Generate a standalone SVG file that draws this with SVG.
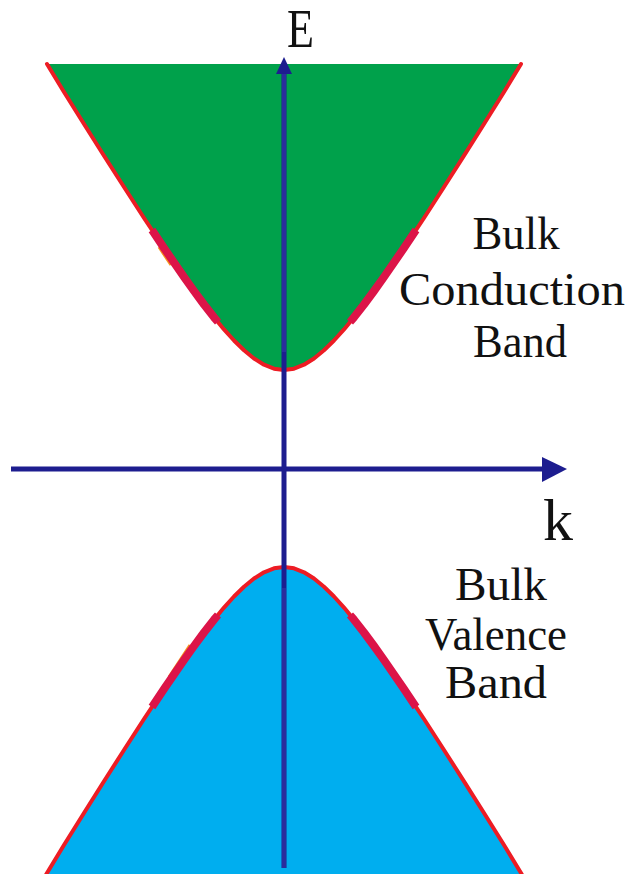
<svg xmlns="http://www.w3.org/2000/svg" width="634" height="874" viewBox="0 0 634 874">
<style>
.edge{fill:none;stroke:#ED1C24;stroke-width:4;stroke-linejoin:round;stroke-linecap:round}
.thick{fill:none;stroke:#DC1448;stroke-width:8;stroke-linejoin:round}
.orange{stroke:#F7941D;stroke-width:3}
.axis{stroke:#1D1D8F;stroke-width:5}
.axisin{stroke:#2B2D9C;stroke-width:4}
.head{fill:#1D1D8F}
.lbl{font-family:"Liberation Serif","Times New Roman",serif;font-size:46px;fill:#111;text-anchor:middle}
.sym{font-family:"Liberation Serif","Times New Roman",serif;fill:#111}
</style>
<rect width="634" height="874" fill="#ffffff"/>
<g id="conduction-band">
<path fill="#00A14B" d="M47,64 L64,92 L84,124 L104,155.7 L124,187 L144,218 L164,248 L184,277 L194,291 L204,304.5 L214,317.3 L224,329.4 L234,340.5 L244,350.3 L254,358.5 L264,364.7 L274,368.7 L284,370 L294,368.7 L304,364.7 L314,358.5 L324,350.3 L334,340.5 L344,329.4 L354,317.3 L364,304.5 L374,291 L384,277 L404,248 L424,218 L444,187 L464,155.7 L484,124 L504,92 L521,64 Z"/>
<path class="edge" d="M47,64 L64,92 L84,124 L104,155.7 L124,187 L144,218 L164,248 L184,277 L194,291 L204,304.5 L214,317.3 L224,329.4 L234,340.5 L244,350.3 L254,358.5 L264,364.7 L274,368.7 L284,370 L294,368.7 L304,364.7 L314,358.5 L324,350.3 L334,340.5 L344,329.4 L354,317.3 L364,304.5 L374,291 L384,277 L404,248 L424,218 L444,187 L464,155.7 L484,124 L504,92 L521,64"/>
<line class="orange" x1="159" y1="247" x2="171" y2="265"/>
<path class="thick" d="M152,230 L164,248 L184,277 L194,291 L204,304.5 L214,317.3 L218,322"/>
<path class="thick" d="M350,322 L354,317.3 L364,304.5 L374,291 L384,277 L404,248 L416,230"/>
</g>
<g id="valence-band">
<path fill="#00AEEF" d="M43,880 L47,873 L64,845 L84,813 L104,781.3 L124,750 L144,719 L164,689 L184,660 L194,646 L204,632.5 L214,619.7 L224,607.6 L234,596.5 L244,586.7 L254,578.5 L264,572.3 L274,568.3 L284,567 L294,568.3 L304,572.3 L314,578.5 L324,586.7 L334,596.5 L344,607.6 L354,619.7 L364,632.5 L374,646 L384,660 L404,689 L424,719 L444,750 L464,781.3 L484,813 L504,845 L521,873 L525,880 Z"/>
<path class="edge" d="M43,880 L47,873 L64,845 L84,813 L104,781.3 L124,750 L144,719 L164,689 L184,660 L194,646 L204,632.5 L214,619.7 L224,607.6 L234,596.5 L244,586.7 L254,578.5 L264,572.3 L274,568.3 L284,567 L294,568.3 L304,572.3 L314,578.5 L324,586.7 L334,596.5 L344,607.6 L354,619.7 L364,632.5 L374,646 L384,660 L404,689 L424,719 L444,750 L464,781.3 L484,813 L504,845 L521,873 L525,880"/>
<line class="orange" x1="190" y1="645" x2="169" y2="677"/>
<path class="thick" d="M152,707 L164,689 L184,660 L194,646 L204,632.5 L214,619.7 L218,615"/>
<path class="thick" d="M350,615 L354,619.7 L364,632.5 L374,646 L384,660 L404,689 L416,707"/>
</g>
<g id="connectors">
<line class="axis" x1="11" y1="469" x2="545" y2="469"/>
<polygon class="head" points="567,469 542,457 542,482"/>
<line class="axis" x1="284" y1="868" x2="284" y2="70"/>
<line class="axisin" x1="284" y1="74" x2="284" y2="352"/>
<line class="axisin" x1="284" y1="588" x2="284" y2="868"/>
<polygon class="head" points="284,57 276,74 292,74"/>
</g>
<g id="axis-labels">
<text class="sym" x="287" y="47" font-size="54" textLength="27" lengthAdjust="spacingAndGlyphs">E</text>
<text class="sym" x="543" y="540" font-size="60">k</text>
</g>
<g id="label-conduction">
<text class="lbl" x="516" y="249" textLength="87" lengthAdjust="spacingAndGlyphs">Bulk</text>
<text class="lbl" x="512" y="305" textLength="226" lengthAdjust="spacingAndGlyphs">Conduction</text>
<text class="lbl" x="520" y="357" textLength="94" lengthAdjust="spacingAndGlyphs">Band</text>
</g>
<g id="label-valence">
<text class="lbl" x="501" y="600" textLength="92" lengthAdjust="spacingAndGlyphs">Bulk</text>
<text class="lbl" x="496" y="650" textLength="142" lengthAdjust="spacingAndGlyphs">Valence</text>
<text class="lbl" x="496" y="698" textLength="102" lengthAdjust="spacingAndGlyphs">Band</text>
</g>
</svg>
